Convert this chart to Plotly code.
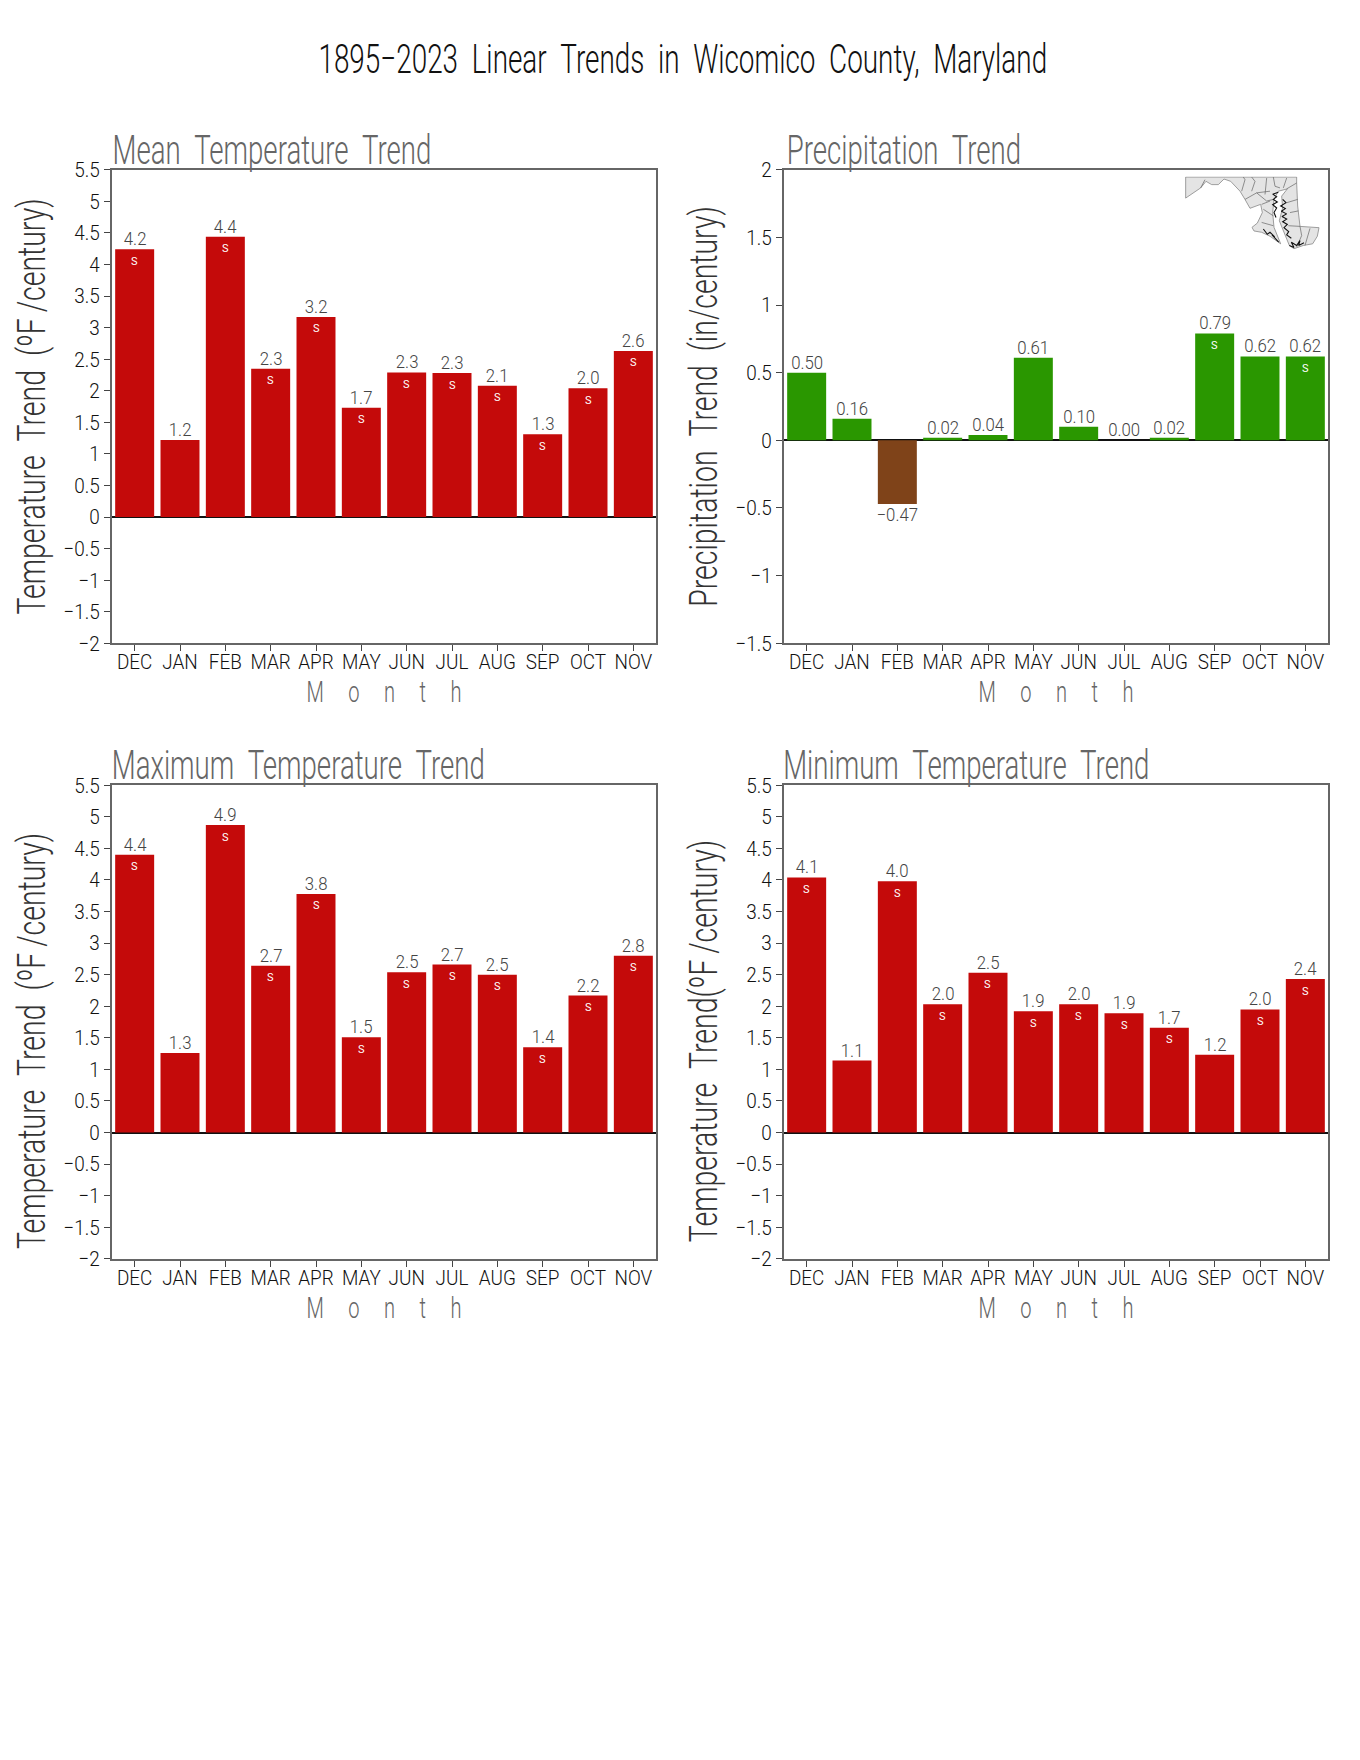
import plotly.graph_objects as go

W, H = 1360, 1760
FONT = "Roboto, Liberation Sans, sans-serif"
NB = "\u00a0"

months = ["DEC", "JAN", "FEB", "MAR", "APR", "MAY", "JUN", "JUL", "AUG", "SEP", "OCT", "NOV"]

mean_vals = [4.24, 1.22, 4.44, 2.35, 3.17, 1.73, 2.29, 2.28, 2.08, 1.31, 2.04, 2.63]
mean_labels = ["4.2", "1.2", "4.4", "2.3", "3.2", "1.7", "2.3", "2.3", "2.1", "1.3", "2.0", "2.6"]
mean_sig = [1, 0, 1, 1, 1, 1, 1, 1, 1, 1, 1, 1]

precip_vals = [0.50, 0.16, -0.47, 0.02, 0.04, 0.61, 0.10, 0.00, 0.02, 0.79, 0.62, 0.62]
precip_labels = ["0.50", "0.16", "\u22120.47", "0.02", "0.04", "0.61", "0.10", "0.00", "0.02", "0.79", "0.62", "0.62"]
precip_sig = [0, 0, 0, 0, 0, 0, 0, 0, 0, 1, 0, 1]

max_vals = [4.40, 1.26, 4.87, 2.64, 3.78, 1.51, 2.54, 2.66, 2.50, 1.35, 2.17, 2.80]
max_labels = ["4.4", "1.3", "4.9", "2.7", "3.8", "1.5", "2.5", "2.7", "2.5", "1.4", "2.2", "2.8"]
max_sig = [1, 0, 1, 1, 1, 1, 1, 1, 1, 1, 1, 1]

min_vals = [4.04, 1.14, 3.98, 2.03, 2.53, 1.92, 2.03, 1.89, 1.66, 1.23, 1.95, 2.43]
min_labels = ["4.1", "1.1", "4.0", "2.0", "2.5", "1.9", "2.0", "1.9", "1.7", "1.2", "2.0", "2.4"]
min_sig = [1, 0, 1, 1, 1, 1, 1, 1, 1, 0, 1, 1]

RED, GREEN, BROWN = "#C40A0A", "#2A9700", "#7F4319"

map_x = [167, 500, 500, 503, 510, 567, 562, 548, 520, 492, 478, 462, 448, 458, 455, 472, 445, 432, 428, 432, 452,
         420, 395, 372, 366, 382, 397, 392, 360, 345, 330, 302, 282, 265, 245, 228, 212, 167, 167]
map_y = [82, 82, 100, 170, 232, 236, 262, 285, 290, 300, 290, 250, 215, 175, 140, 118, 125, 150, 190, 235, 285,
         262, 250, 246, 235, 222, 190, 165, 177, 150, 125, 95, 88, 105, 105, 95, 115, 146, 82]
county_x = [212, 225, None, 335, 345, 340, None, 365, 375, 365, None, 405, 410, None, 430, 435, 450, None, 345, 380, 420,
            None, 380, 410, 430, None, 395, 420, None, 400, 430, None, 395, 430, None, 470, 460, None, 500, 470, None,
            470, 503, None, 480, 505, None, 475, 510, None, 510, 515, 500, None, 540, 525]
county_y = [115, 90, None, 125, 90, 82, None, 125, 95, 82, None, 135, 85, None, 82, 110, 115, None, 150, 130, 125,
            None, 130, 155, 150, None, 165, 155, None, 180, 200, None, 220, 230, None, 85, 115, None, 100, 118, None,
            160, 150, None, 190, 185, None, 230, 232, None, 232, 260, 295, None, 238, 290]
shore_x = [445, 428, 440, 430, 442, 428, 440, 432, 438, None, 458, 468, 452, 466, 454, 470, 456, 470, 458, 472, 462,
           476, 470, 484, None, 400, 412, 420, 434, 426, 446, None, 478, 492, 484, 500, 510, 506, 522]
shore_y = [128, 134, 142, 150, 158, 166, 176, 190, 205, None, 150, 160, 170, 178, 186, 194, 202, 210, 218, 226, 236,
           248, 258, 268, None, 240, 256, 250, 264, 258, 280, None, 290, 296, 280, 290, 275, 290, 282]

panels = [
    dict(name="Mean Temperature Trend", width=319, vals=mean_vals, labels=mean_labels, sig=mean_sig,
         ytitle=f"Temperature{NB}{NB}Trend{NB}{NB}(ºF\u2009/century)", left=112, top=160, rng=[-2, 5.5]),
    dict(name="Precipitation Trend", width=239, vals=precip_vals, labels=precip_labels, sig=precip_sig,
         ytitle=f"Precipitation{NB}{NB}Trend{NB}{NB}(in/century)", left=784, top=160, rng=[-1.5, 2]),
    dict(name="Maximum Temperature Trend", width=372, vals=max_vals, labels=max_labels, sig=max_sig,
         ytitle=f"Temperature{NB}{NB}Trend{NB}{NB}(ºF\u2009/century)", left=112, top=784, rng=[-2, 5.5]),
    dict(name="Minimum Temperature Trend", width=365, vals=min_vals, labels=min_labels, sig=min_sig,
         ytitle=f"Temperature{NB}{NB}Trend(ºF\u2009/century)", left=784, top=784, rng=[-2, 5.5]),
]
PW, PH = 544, 480

fig = go.Figure()
layout = dict(
    width=W, height=H, margin=dict(l=0, r=0, t=0, b=0), autosize=False,
    paper_bgcolor="white", plot_bgcolor="white", showlegend=False,
    font=dict(family=FONT, color="#222", size=20), bargap=0.14,
)
annotations = [dict(
    text=f"1895\u22122023{NB}{NB}Linear{NB}{NB}Trends{NB}{NB}in{NB}{NB}Wicomico{NB}{NB}County,{NB}{NB}Maryland",
    x=683 / W, y=1 - 48 / H, xref="paper", yref="paper", showarrow=False,
    font=dict(family=FONT, size=41, color="#111", weight=300), xanchor="center", yanchor="middle")]

for i, p in enumerate(panels, start=1):
    ax = "" if i == 1 else str(i)
    colors = [BROWN if v < 0 else (GREEN if p["rng"][1] == 2 else RED) for v in p["vals"]]
    fig.add_trace(go.Bar(
        x=months, y=p["vals"], xaxis=f"x{ax}", yaxis=f"y{ax}", marker=dict(color=colors, line_width=0),
        name=p["name"]))
    common = dict(showline=True, mirror=True, linecolor="#666", linewidth=2, showgrid=False,
                  ticks="outside", tickcolor="#444", tickwidth=1, ticklen=6)
    layout[f"xaxis{ax}"] = dict(
        domain=[p["left"] / W, (p["left"] + PW) / W], anchor=f"y{ax}", range=[-0.5, 11.5], type="category",
        tickfont=dict(size=21, color="#111", weight=300), zeroline=False, ticklabelstandoff=-7,
        title=dict(text=f"M{NB}{NB}{NB}{NB}{NB}o{NB}{NB}{NB}{NB}{NB}n{NB}{NB}{NB}{NB}{NB}t{NB}{NB}{NB}{NB}{NB}h",
                   font=dict(size=30, color="#666", weight=300), standoff=8), **common)
    layout[f"yaxis{ax}"] = dict(
        domain=[1 - (p["top"] + PH) / H, 1 - p["top"] / H], anchor=f"x{ax}", range=p["rng"], dtick=0.5,
        tickfont=dict(size=21, color="#111", weight=300), zeroline=True, zerolinecolor="#111", zerolinewidth=1.5,
        title=dict(text=p["ytitle"], font=dict(size=39, color="#333", weight=300), standoff=2), **common)
    annotations.append(dict(
        text=p["name"].replace(" ", NB * 2), x=(p["left"] + p["width"] / 2) / W, y=1 - (p["top"] - 1) / H,
        xref="paper", yref="paper", showarrow=False, xanchor="center", yanchor="bottom", yshift=-7,
        font=dict(family=FONT, size=40, color="#666", weight=300)))
    for m, v, lab, s in zip(months, p["vals"], p["labels"], p["sig"]):
        annotations.append(dict(
            text=lab, x=m, y=v, xref=f"x{ax}", yref=f"y{ax}", showarrow=False,
            yanchor="bottom" if v >= 0 else "top", yshift=-2 if v >= 0 else 2,
            font=dict(family=FONT, size=18, color="#444", weight=300)))
        if s:
            annotations.append(dict(
                text="S", x=m, y=v, xref=f"x{ax}", yref=f"y{ax}", showarrow=False, yshift=-12,
                font=dict(family=FONT, size=11, color="white")))

fig.add_trace(go.Scatter(x=map_x, y=map_y, xaxis="x5", yaxis="y5", mode="lines", fill="toself",
                         fillcolor="#E4E4E4", line=dict(color="#888", width=0.8), hoverinfo="skip"))
fig.add_trace(go.Scatter(x=county_x, y=county_y, xaxis="x5", yaxis="y5", mode="lines",
                         line=dict(color="#666", width=0.7), hoverinfo="skip"))
fig.add_trace(go.Scatter(x=shore_x, y=shore_y, xaxis="x5", yaxis="y5", mode="lines",
                         line=dict(color="#111", width=1.1), hoverinfo="skip"))
layout["xaxis5"] = dict(domain=[1185 / W, 1320 / W], range=[165, 570], visible=False, anchor="y5", fixedrange=True)
layout["yaxis5"] = dict(domain=[1 - 240.67 / H, 1 - 166.67 / H], range=[302, 80], visible=False, anchor="x5", fixedrange=True)

layout["annotations"] = annotations
fig.update_layout(**layout)

# Squeeze glyphs horizontally so they read as the tall, narrow stroke lettering of the original;
# the lower panels' y titles sit a little below centre in the original.
CONDENSE = """
document.body.style.margin='0';
var K = {41:0.68, 40:0.69, 39:0.73, 30:0.67, 21:0.90, 18:0.93};
document.querySelectorAll('.main-svg text').forEach(function(t){
  var fs = Math.round(parseFloat(getComputedStyle(t).fontSize));
  if (!K[fs]) return;
  t.setAttribute('textLength', (t.getComputedTextLength() * K[fs]).toFixed(1));
  t.setAttribute('lengthAdjust', 'spacingAndGlyphs');
});
document.querySelectorAll('text.y3title, text.y4title').forEach(function(t){ t.setAttribute('dx', '-19'); });
"""
fig.write_html("out.html", post_script=CONDENSE, config=dict(displayModeBar=False))
